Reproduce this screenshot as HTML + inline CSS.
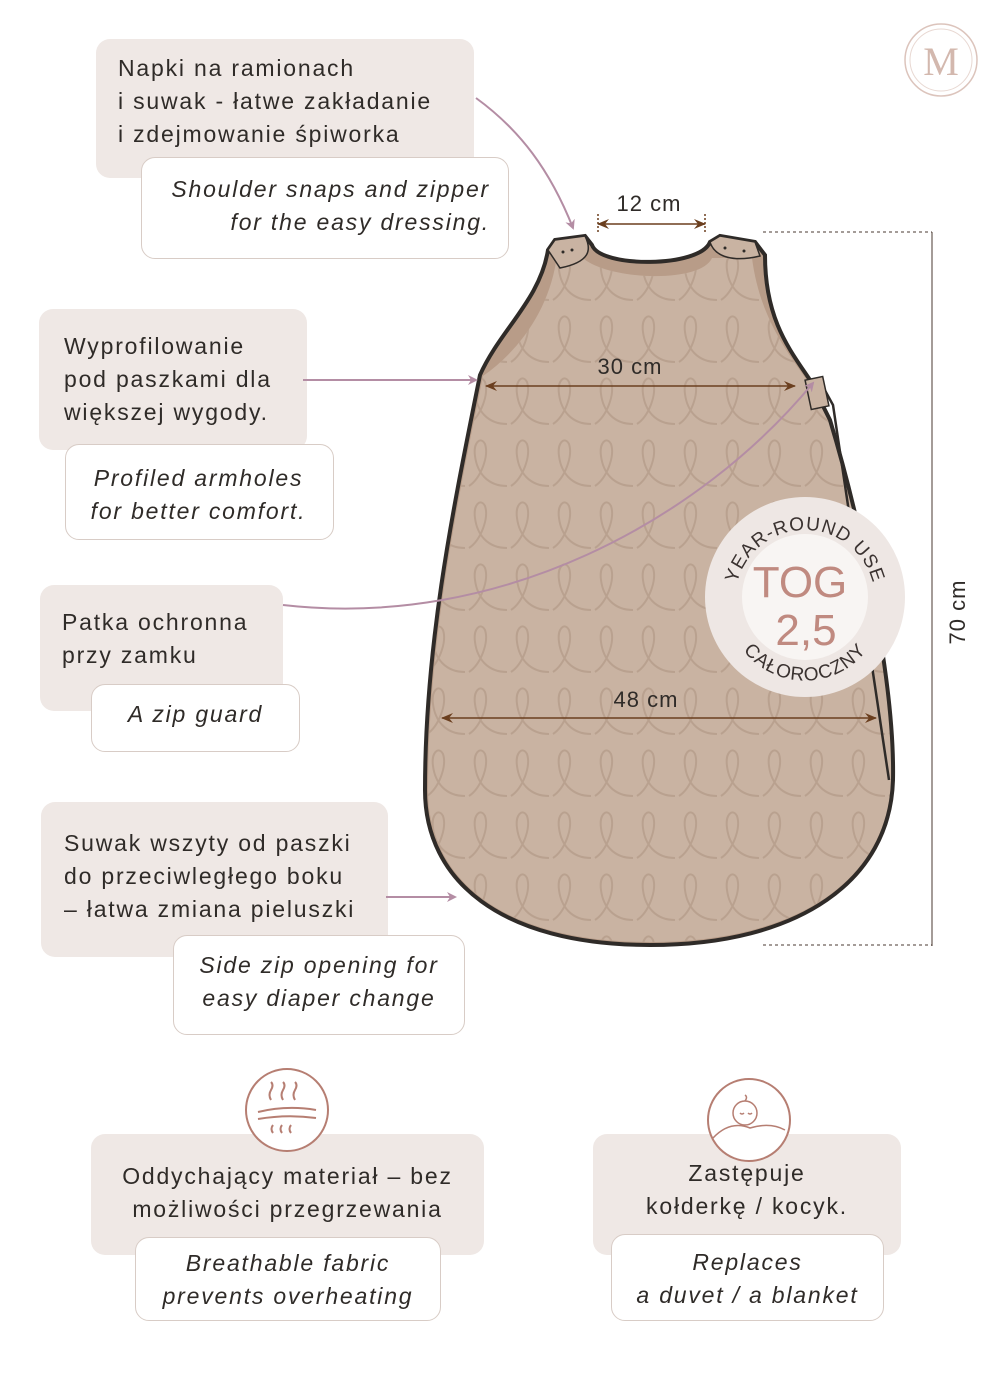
<!DOCTYPE html>
<html><head><meta charset="utf-8"><style>
body{margin:0;background:#fff;}
.c{position:relative;width:1000px;height:1400px;overflow:hidden;font-family:"Liberation Sans",sans-serif;color:#2f2b28;}
.g{position:absolute;background:#efe8e5;border-radius:14px;}
.w{position:absolute;background:#fff;border:1px solid #d8ccc6;border-radius:14px;}
.t{position:absolute;font-size:23px;letter-spacing:1.8px;line-height:33px;white-space:nowrap;}
.i{font-style:italic;}
svg{position:absolute;left:0;top:0;}
</style></head><body><div class="c">
<div class="g" style="left:96px;top:39px;width:378px;height:139px"></div>
<div class="t" style="left:118px;top:52px">Napki na ramionach<br>i suwak - łatwe zakładanie<br>i zdejmowanie śpiworka</div>
<div class="w" style="left:141px;top:157px;width:366px;height:100px"></div>
<div class="t i" style="left:140px;top:173px;width:350px;text-align:right">Shoulder snaps and zipper<br>for the easy dressing.</div>

<div class="g" style="left:39px;top:309px;width:268px;height:141px"></div>
<div class="t" style="left:64px;top:330px">Wyprofilowanie<br>pod paszkami dla<br>większej wygody.</div>
<div class="w" style="left:65px;top:444px;width:267px;height:94px"></div>
<div class="t i" style="left:65px;top:462px;width:267px;text-align:center">Profiled armholes<br>for better comfort.</div>

<div class="g" style="left:40px;top:585px;width:243px;height:126px"></div>
<div class="t" style="left:62px;top:606px">Patka ochronna<br>przy zamku</div>
<div class="w" style="left:91px;top:684px;width:207px;height:66px"></div>
<div class="t i" style="left:91px;top:698px;width:209px;text-align:center">A zip guard</div>

<div class="g" style="left:41px;top:802px;width:347px;height:155px"></div>
<div class="t" style="left:64px;top:827px">Suwak wszyty od paszki<br>do przeciwległego boku<br>– łatwa zmiana pieluszki</div>
<div class="w" style="left:173px;top:935px;width:290px;height:98px"></div>
<div class="t i" style="left:173px;top:949px;width:292px;text-align:center">Side zip opening for<br>easy diaper change</div>

<div class="g" style="left:91px;top:1134px;width:393px;height:121px"></div>
<div class="t" style="left:91px;top:1160px;width:393px;text-align:center">Oddychający materiał – bez<br>możliwości przegrzewania</div>
<div class="w" style="left:135px;top:1237px;width:304px;height:82px"></div>
<div class="t i" style="left:135px;top:1247px;width:306px;text-align:center">Breathable fabric<br>prevents overheating</div>

<div class="g" style="left:593px;top:1134px;width:308px;height:121px"></div>
<div class="t" style="left:593px;top:1157px;width:308px;text-align:center">Zastępuje<br>kołderkę / kocyk.</div>
<div class="w" style="left:611px;top:1234px;width:271px;height:85px"></div>
<div class="t i" style="left:611px;top:1246px;width:273px;text-align:center">Replaces<br>a duvet / a blanket</div>

<svg width="1000" height="1400" viewBox="0 0 1000 1400">
<defs>
<pattern id="lp" x="425" y="250" width="42" height="62" patternUnits="userSpaceOnUse">
<path d="M2 50 C14 42 22 20 18 8 C14 0 6 6 8 20 C10 36 20 50 40 50" fill="none" stroke="#b39a88" stroke-width="2" opacity=".7"/>
</pattern>
<marker id="pa" markerWidth="10" markerHeight="10" refX="8" refY="5" orient="auto" markerUnits="userSpaceOnUse"><path d="M0 0 L10 5 L0 10 L3 5Z" fill="#b48da4"/></marker>
<marker id="ba" markerWidth="12" markerHeight="10" refX="11" refY="5" orient="auto-start-reverse" markerUnits="userSpaceOnUse"><path d="M0 0 L12 5 L0 10 L4 5Z" fill="#6b3f1f"/></marker>
<path id="arcT" d="M735 600 A70 70 0 0 1 875 600"/>
<path id="arcB" d="M728 615 A78 78 0 0 0 882 615"/>
</defs>
<path d="M480 375 C500 330 540 300 548 250 L555 240 L585 236 L592 245 C600 268 700 268 710 242 L720 236 L755 242 L765 255 C765 320 790 350 810 380 L830 420 C860 520 895 680 893 780 C890 880 800 945 650 945 C500 945 425 880 425 790 C425 640 455 500 480 375Z" fill="#b89c88"/>
<path d="M483 376 C520 350 548 310 556 262 L580 255 C600 280 700 285 712 258 L752 258 C760 320 790 355 808 382 L830 420 C860 520 893 680 891 780 C888 878 800 942 650 942 C500 942 428 878 428 790 C428 640 458 500 483 376Z" fill="#c9b3a2"/>
<path d="M483 376 C520 350 548 310 556 262 L580 255 C600 280 700 285 712 258 L752 258 C760 320 790 355 808 382 L830 420 C860 520 893 680 891 780 C888 878 800 942 650 942 C500 942 428 878 428 790 C428 640 458 500 483 376Z" fill="url(#lp)"/>
<path d="M480 375 C500 330 540 300 548 250 L555 240 L585 236 L592 245 C600 268 700 268 710 242 L720 236 L755 242 L765 255 C765 320 790 350 810 380 L830 420 C860 520 895 680 893 780 C890 880 800 945 650 945 C500 945 425 880 425 790 C425 640 455 500 480 375Z" fill="none" stroke="#2f2b28" stroke-width="4"/>
<path d="M548 250 L555 240 L585 236 C592 250 590 262 560 268 Z" fill="#c9b3a2" stroke="#2f2b28" stroke-width="1.5"/>
<path d="M710 242 L720 236 L755 242 L760 256 C735 262 715 258 710 242Z" fill="#c9b3a2" stroke="#2f2b28" stroke-width="1.5"/>
<circle cx="563" cy="252" r="1.5" fill="#2f2b28"/><circle cx="572" cy="250" r="1.5" fill="#2f2b28"/>
<circle cx="725" cy="248" r="1.5" fill="#2f2b28"/><circle cx="744" cy="251" r="1.5" fill="#2f2b28"/>
<path d="M822 385 L833 405 L889 780" fill="none" stroke="#2f2b28" stroke-width="2.5"/>
<rect x="808" y="378" width="18" height="30" fill="#c9b3a2" stroke="#2f2b28" stroke-width="1.5" transform="rotate(-12 817 393)"/>
<g stroke="#6b3f1f" stroke-width="1.5" fill="none">
<line x1="598" y1="224" x2="705" y2="224" marker-start="url(#ba)" marker-end="url(#ba)"/>
<line x1="598" y1="214" x2="598" y2="232" stroke-dasharray="2 2"/><line x1="705" y1="214" x2="705" y2="232" stroke-dasharray="2 2"/>
<line x1="486" y1="386" x2="795" y2="386" marker-start="url(#ba)" marker-end="url(#ba)"/>
<line x1="442" y1="718" x2="876" y2="718" marker-start="url(#ba)" marker-end="url(#ba)"/>
</g>
<g stroke="#4a3a30" stroke-width="1" fill="none">
<line x1="932" y1="232" x2="932" y2="946"/>
<line x1="763" y1="232" x2="932" y2="232" stroke-dasharray="3 3"/>
<line x1="763" y1="945" x2="932" y2="945" stroke-dasharray="3 3"/>
</g>
<g font-family="Liberation Sans,sans-serif" font-size="22" fill="#2f2b28" text-anchor="middle" letter-spacing="1">
<text x="649" y="211">12 cm</text>
<text x="630" y="374">30 cm</text>
<text x="646" y="707">48 cm</text>
<text transform="translate(965 612) rotate(-90)">70 cm</text>
</g>
<g stroke="#b48da4" stroke-width="2" fill="none">
<path d="M476 98 C520 130 550 170 573 228" marker-end="url(#pa)"/>
<line x1="303" y1="380" x2="476" y2="380" marker-end="url(#pa)"/>
<path d="M283 605 C500 630 700 520 813 383" marker-end="url(#pa)"/>
<line x1="386" y1="897" x2="455" y2="897" marker-end="url(#pa)"/>
</g>
<circle cx="805" cy="597" r="100" fill="#eee7e4"/>
<circle cx="805" cy="597" r="63" fill="#f8f5f3"/>
<g font-family="Liberation Sans,sans-serif" font-size="19" fill="#3a3230" letter-spacing="1">
<text><textPath href="#arcT" startOffset="50%" text-anchor="middle">YEAR-ROUND USE</textPath></text>
<text><textPath href="#arcB" startOffset="50%" text-anchor="middle">CAŁOROCZNY</textPath></text>
</g>
<g font-family="Liberation Sans,sans-serif" font-size="44" fill="#c08a80" text-anchor="middle">
<text x="800" y="597">TOG</text>
<text x="806" y="645">2,5</text>
</g>
<circle cx="941" cy="60" r="36" fill="none" stroke="#dcc4bc" stroke-width="1.5"/>
<circle cx="941" cy="60" r="31" fill="none" stroke="#e8d8d2" stroke-width="1"/>
<text x="941" y="75" font-family="Liberation Serif,serif" font-size="40" fill="#d3b8ae" text-anchor="middle">M</text>
<circle cx="287" cy="1110" r="41" fill="#fff" stroke="#b67e72" stroke-width="2"/>
<g stroke="#b67e72" stroke-width="2" fill="none">
<path d="M258 1112 Q287 1105 316 1110"/><path d="M258 1119 Q287 1114 316 1118"/>
<path d="M271 1100 q-3 -5 0 -10 q3 -5 0 -8"/><path d="M283 1100 q-3 -5 0 -10 q3 -5 0 -8"/><path d="M295 1100 q-3 -5 0 -10 q3 -5 0 -8"/>
<path d="M273 1133 q-3 -4 0 -8"/><path d="M282 1133 q-3 -4 0 -8"/><path d="M291 1133 q-3 -4 0 -8"/>
</g>
<circle cx="749" cy="1120" r="41" fill="#fff" stroke="#b67e72" stroke-width="2"/>
<g stroke="#b67e72" stroke-width="1.5" fill="none">
<circle cx="745" cy="1113" r="12"/>
<path d="M740 1113 q2 2 4 0 M748 1113 q2 2 4 0"/>
<path d="M713 1138 Q730 1120 750 1128 Q770 1122 785 1130"/>
<path d="M745 1101 q3 -4 0 -6"/>
</g>
</svg>
</div></body></html>
